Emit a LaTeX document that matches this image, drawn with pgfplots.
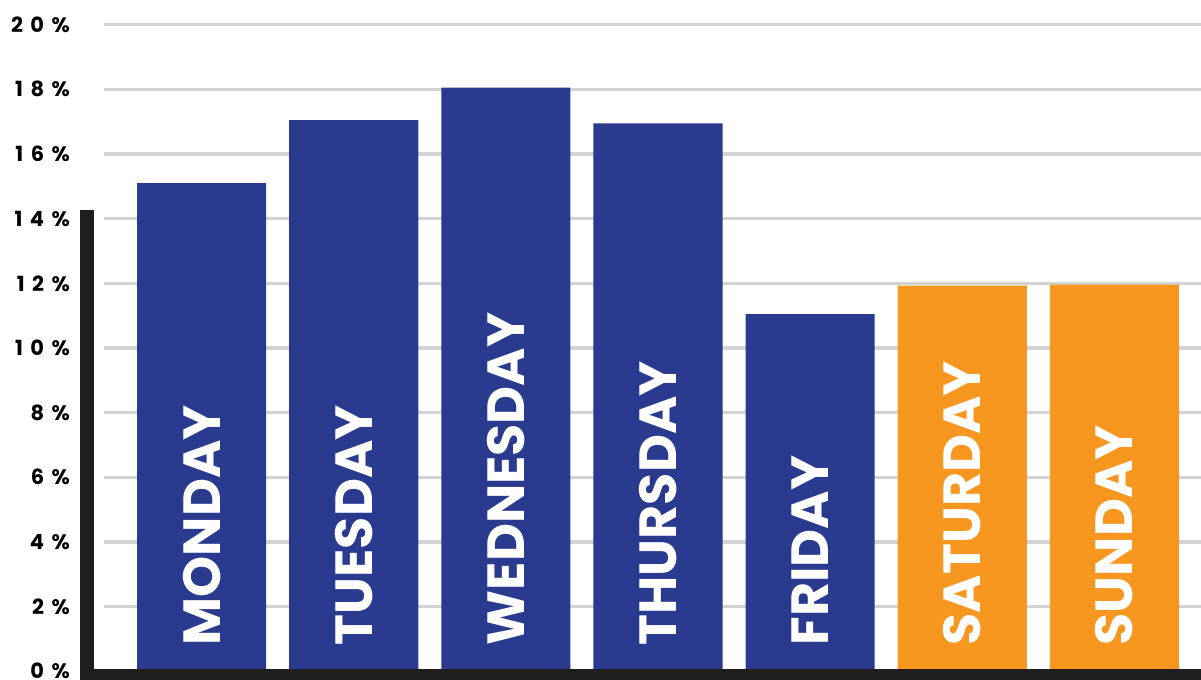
\documentclass[border=0pt]{standalone}
\usepackage{fontspec}
\setmainfont{Poppins}
\usepackage{pgfplots}
\pgfplotsset{compat=1.18}
\usepackage{pgfplotstable}
\definecolor{barblue}{HTML}{293A8F}
\definecolor{barorange}{HTML}{F79720}
\definecolor{gridgray}{HTML}{D3D3D3}
\definecolor{axisblack}{HTML}{1F1E1C}
\newcommand\lsp{\hspace{7.5bp}}
\pgfplotstableread{
x y lbl
0 0.8 MONDAY
1 0.8 TUESDAY
2 0.8 WEDNESDAY
3 0.8 THURSDAY
4 0.8 FRIDAY
5 0.8 SATURDAY
6 0.8 SUNDAY
}\labeltable
\begin{document}
\begin{tikzpicture}[x=1bp,y=1bp]
\begin{axis}[
  at={(0,0)}, anchor=south west,
  scale only axis, width=1097bp, height=646.6bp,
  xmin=-0.6414, xmax=6.569, ymin=0, ymax=20,
  axis line style={draw=none},
  xtick=\empty,
  ytick={0,2,4,6,8,10,12,14,16,18,20},
  yticklabels={0\lsp\%,2\lsp\%,4\lsp\%,6\lsp\%,8\lsp\%,1\lsp0\lsp\%,1\lsp2\lsp\%,1\lsp4\lsp\%,1\lsp6\lsp\%,1\lsp8\lsp\%,2\lsp0\lsp\%},
  major tick length=0pt,
  ymajorgrids, grid style={gridgray, line width=3.6bp},
  yticklabel style={font=\bfseries\fontsize{21}{22}\selectfont, anchor=east, inner sep=0pt, xshift=-34bp},
  clip=false,
]
\addplot[ybar, bar width=0.8487, bar shift=0pt, fill=barblue, draw=none] coordinates {(0,15.1) (1,17.05) (2,18.05) (3,16.95) (4,11.05)};
\addplot[ybar, bar width=0.8487, bar shift=0pt, fill=barorange, draw=none] coordinates {(5,11.93) (6,11.96)};
\addplot[draw=none, mark=none, nodes near coords, point meta=explicit symbolic,
  every node near coord/.style={rotate=90, anchor=west, inner sep=0pt, text=white, font=\bfseries\fontsize{52.5}{53}\selectfont}]
  table[x=x, y=y, meta=lbl] {\labeltable};
\end{axis}
\fill[axisblack] (-24,-14) rectangle (1097,2.3);
\fill[axisblack] (-24,-14) rectangle (-10,461.3);
\pgfresetboundingbox
\useasboundingbox (-104,-8.7) rectangle (1097,671.3);
\end{tikzpicture}
\end{document}
